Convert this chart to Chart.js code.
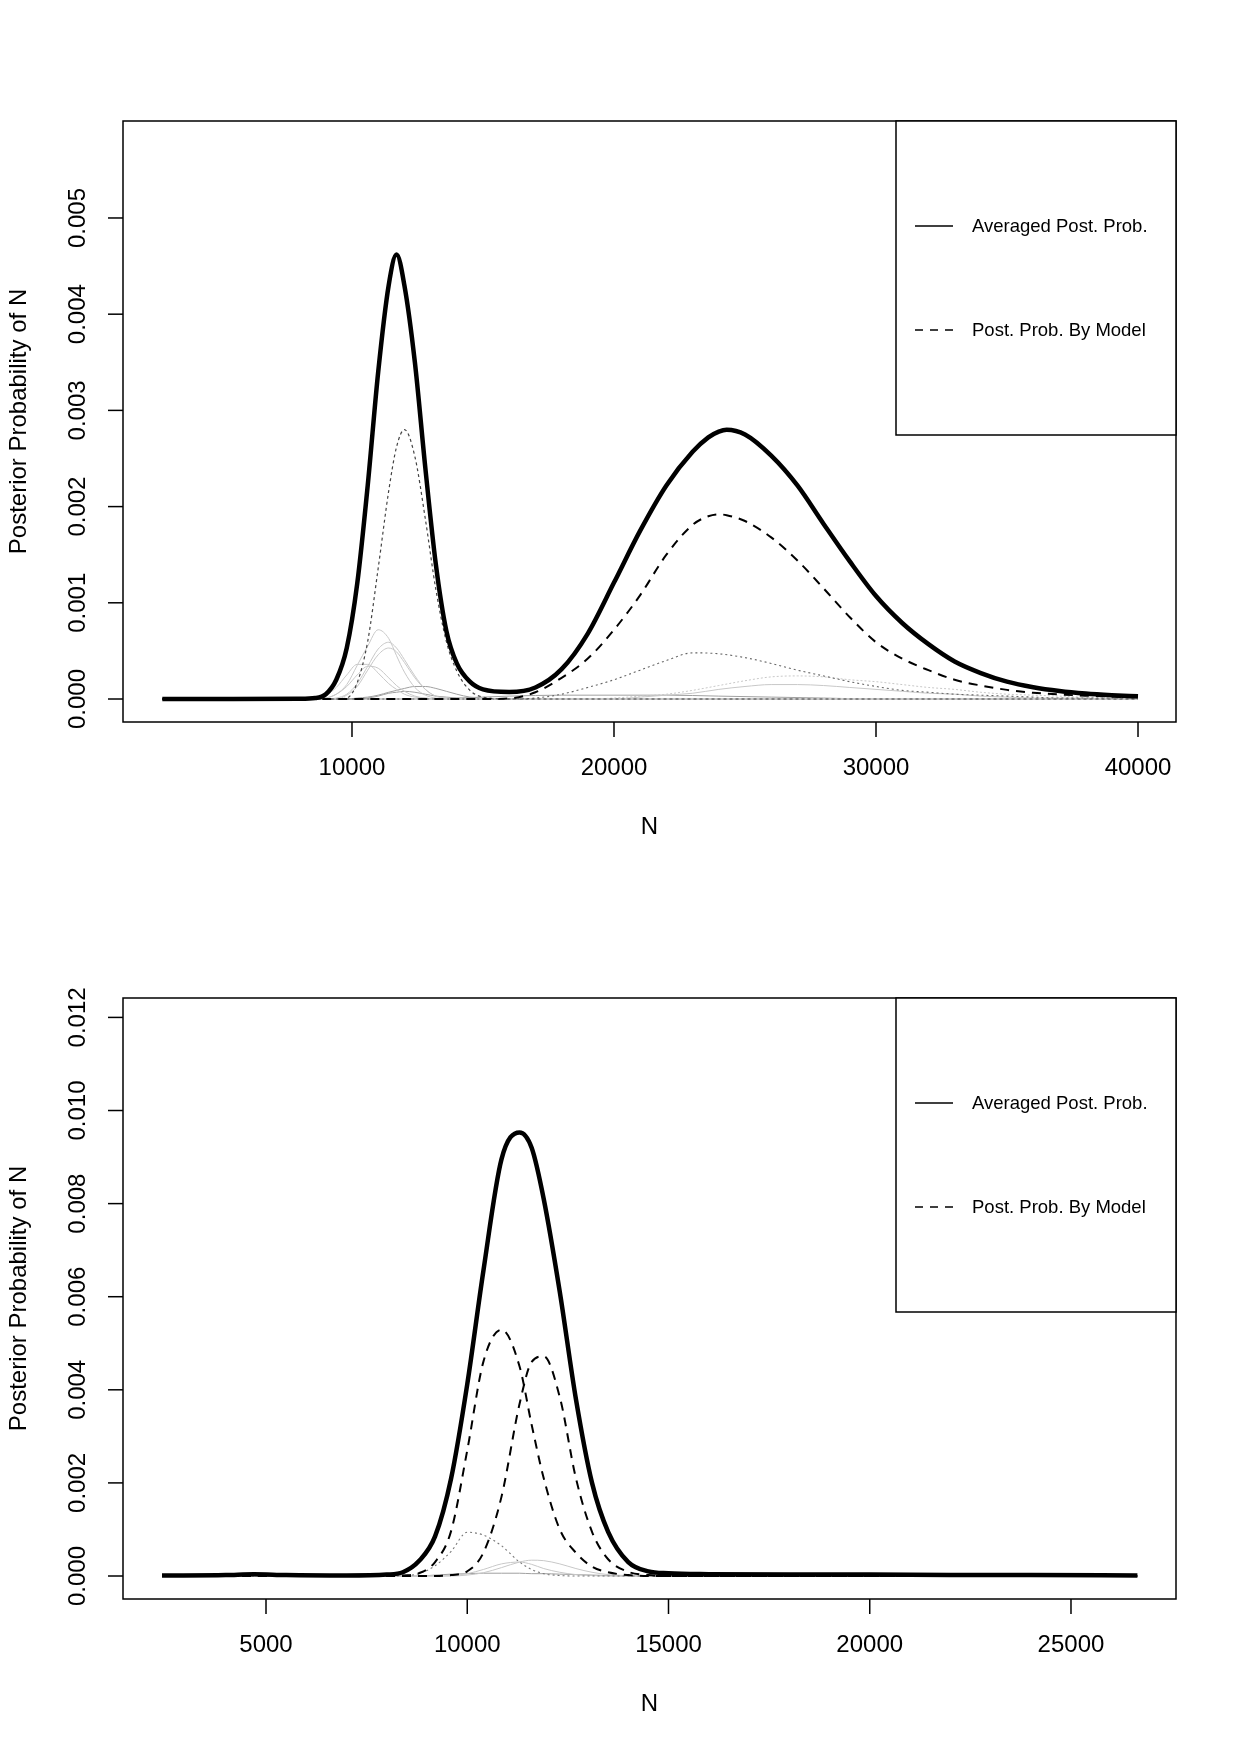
<!DOCTYPE html>
<html>
<head>
<meta charset="utf-8">
<title>Posterior Probability of N</title>
<script src="https://cdn.jsdelivr.net/npm/chart.js@4.4.1/dist/chart.umd.min.js"></script>
<style>
  html, body { margin: 0; padding: 0; background: #fff; }
  #page { position: relative; width: 1240px; height: 1753px; }
  .panel { position: absolute; left: 0; width: 1240px; }
</style>
</head>
<body>
<div id="page">
  <div class="panel" style="top:0;height:876px"><canvas id="topChart" width="1240" height="876"></canvas></div>
  <div class="panel" style="top:876px;height:877px"><canvas id="bottomChart" width="1240" height="877"></canvas></div>
</div>
<script>
// ---------- Top panel data (N grid + posterior curves) ----------
const topN = [2760, 5000, 8000, 8600, 9000, 9400, 9800, 10200, 10600, 11000, 11400, 11700, 12000,
  12400, 12800, 13200, 13600, 14000, 14500, 15000, 16000, 17000, 18000, 19000, 20000, 21000, 22000,
  23000, 23600, 24000, 24300, 25000, 26000, 27000, 28000, 29000, 30000, 31000, 32000, 33000, 34000, 35000, 36000,
  37000, 38000, 39000, 40000];

// averaged posterior (thick)
const topAvg = [0, 0, 0.000002, 0.00001, 0.00005, 0.0002, 0.00053, 0.0012, 0.00222, 0.0034, 0.0043, 0.00462, 0.0043,
  0.0035, 0.0024, 0.0014, 0.00071, 0.00037, 0.00018, 0.0001, 0.000073, 0.00012, 0.00031, 0.00068, 0.00121, 0.00175, 0.00222,
  0.00257, 0.00272, 0.00278, 0.0028, 0.00275, 0.00253, 0.00222, 0.00182, 0.00143, 0.00107, 0.00079, 0.00057, 0.00039, 0.00027, 0.00018, 0.000122,
  0.000083, 0.000057, 0.00004, 0.000028];

// main model (dashed)
const topModel = [0, 0, 0, 0, 0, 0, 0, 0, 0, 0, 0, 0, 0,
  0, 0, 0, 0, 0, 0, 0, 0.000005, 0.00007, 0.00022, 0.00042, 0.00072, 0.00108, 0.0015,
  0.00181, 0.0019, 0.00192, 0.00191, 0.00185, 0.00168, 0.00144, 0.00115, 0.00085, 0.00059, 0.00042, 0.0003, 0.0002, 0.00014, 0.000095, 0.000065,
  0.000047, 0.000035, 0.000025, 0.000017];

// other models, first hump
const topPeakN = [2760, 8600, 9000, 9400, 9800, 10200, 10600, 11000, 11400, 11700, 12000, 12400, 12800, 13200, 13600, 14000, 14500, 15000, 16000, 40000];
const topPeakDot = [0, 0, 0, 0, 0.00001, 0.00017, 0.0006, 0.00136, 0.00216, 0.00262, 0.0028, 0.00252, 0.00187, 0.00114, 0.0006, 0.00029, 0.00009, 0.00002, 0, 0];
const topGrayA = [0, 0, 0.00001, 0.00005, 0.00015, 0.00035, 0.00055, 0.00072, 0.00063, 0.00045, 0.00028, 0.00012, 0.00004, 0.00001, 0, 0, 0, 0, 0, 0];
const topGrayB = [0, 0, 0, 0.00001, 0.00005, 0.00016, 0.00034, 0.00052, 0.00059, 0.00053, 0.00041, 0.00024, 0.0001, 0.00003, 0.00001, 0, 0, 0, 0, 0];
const topGrayC = [0, 0, 0, 0, 0.00004, 0.00013, 0.0003, 0.00046, 0.00053, 0.00049, 0.00038, 0.00022, 0.0001, 0.00003, 0.00001, 0, 0, 0, 0, 0];
const topGrayD = [0, 0.00001, 0.00004, 0.00012, 0.00025, 0.00036, 0.00036, 0.00027, 0.00016, 0.0001, 0.00005, 0.00002, 0.00001, 0, 0, 0, 0, 0, 0, 0];
const topGrayE = [0, 0, 0.00001, 0.00005, 0.00013, 0.00025, 0.00034, 0.00032, 0.00022, 0.00014, 0.00008, 0.00003, 0.00001, 0, 0, 0, 0, 0, 0, 0];
const topGrayF = [0, 0, 0, 0, 0, 0.00001, 0.00002, 0.00004, 0.00007, 0.00009, 0.00011, 0.00013, 0.00013, 0.00011, 0.00008, 0.00005, 0.00002, 0.00001, 0, 0];
const topGrayG = [0, 0, 0, 0, 0, 0, 0.00001, 0.00003, 0.00006, 0.00007, 0.00008, 0.00007, 0.00005, 0.00003, 0.00002, 0.00001, 0, 0, 0, 0];

// other models, second hump
const topTailN = [2760, 16000, 17000, 18000, 19000, 20000, 21000, 22000, 23000, 24000, 25000, 26000, 27000,
  28000, 29000, 30000, 31000, 32000, 33000, 34000, 35000, 36000, 37000, 38000, 39000, 40000];
const topBroadDot = [0, 0, 0.00001, 0.00005, 0.00012, 0.0002, 0.0003, 0.0004, 0.00048, 0.00047, 0.00043, 0.00037, 0.0003,
  0.00024, 0.00018, 0.00013, 0.00009, 0.00007, 0.00005, 0.00004, 0.00003, 0.00002, 0.00001, 0.00001, 0.00001, 0.00001];
const topGrayH = [0, 0, 0, 0, 0, 0.00001, 0.00003, 0.00005, 0.00009, 0.00014, 0.00019, 0.00023, 0.00024,
  0.00023, 0.0002, 0.00018, 0.00015, 0.00012, 0.0001, 0.00007, 0.00005, 0.00004, 0.00003, 0.00002, 0.00002, 0.00001];
const topGrayI = [0, 0, 0, 0, 0, 0, 0.00002, 0.00004, 0.00006, 0.0001, 0.00013, 0.00015, 0.00015,
  0.00014, 0.00012, 0.0001, 0.00008, 0.00006, 0.00005, 0.00003, 0.00002, 0.00001, 0.00001, 0.00001, 0, 0];
const topFlatN = [2760, 12000, 14000, 16000, 18000, 20000, 22000, 24000, 26000, 28000, 30000, 40000];
const topGrayJ = [0, 0, 0.00001, 0.00003, 0.00004, 0.00004, 0.00004, 0.00003, 0.00002, 0.00001, 0, 0];

const topXTicks = [10000, 20000, 30000, 40000];
const topYTicks = [0, 0.001, 0.002, 0.003, 0.004, 0.005];

// ---------- Bottom panel data ----------
const botN = [2416, 4000, 4700, 5500, 7000, 8000, 8400, 8800, 9200, 9600, 10000, 10400, 10850, 11300,
  11600, 11900, 12300, 12700, 13100, 13500, 14000, 14500, 15000, 16000, 18000, 20000, 22000, 24000, 26650];
const botAvg = [0.00001, 0.00002, 0.00004, 0.00002, 0.00001, 0.00003, 0.00008, 0.00032, 0.00085, 0.0021, 0.00412, 0.00655, 0.00895, 0.00953,
  0.0092, 0.0081, 0.0061, 0.0038, 0.002, 0.00095, 0.0003, 0.0001, 0.00006, 0.00004, 0.00003, 0.00003, 0.00002, 0.00002, 0.00001];
const botModelA = [0, 0, 0, 0, 0, 0, 0.00001, 0.00006, 0.0003, 0.00097, 0.0027, 0.0046, 0.00529, 0.0045,
  0.00325, 0.0021, 0.001, 0.0005, 0.0002, 0.00008, 0.00002, 0, 0, 0, 0, 0, 0, 0, 0];
const botModelB = [0, 0, 0, 0, 0, 0, 0, 0, 0, 0.00002, 0.0001, 0.0005, 0.0017, 0.0037,
  0.0046, 0.00472, 0.00384, 0.0021, 0.00095, 0.00036, 0.00009, 0.00002, 0, 0, 0, 0, 0, 0, 0];
const botDot = [0, 0, 0, 0, 0, 0, 0.00001, 0.00005, 0.00022, 0.00053, 0.00094, 0.00088, 0.00065, 0.0003,
  0.00014, 0.00005, 0.00001, 0, 0, 0, 0, 0, 0, 0, 0, 0, 0, 0, 0];
const botGrayA = [0, 0, 0, 0, 0, 0, 0, 0, 0, 0, 0.00002, 0.00007, 0.00018, 0.0003,
  0.00034, 0.00033, 0.00026, 0.00016, 0.00008, 0.00003, 0.00001, 0, 0, 0, 0, 0, 0, 0, 0];
const botGrayB = [0, 0, 0, 0, 0, 0, 0, 0, 0, 0.00001, 0.00005, 0.00014, 0.00026, 0.0003,
  0.00025, 0.00016, 0.00008, 0.00003, 0.00001, 0, 0, 0, 0, 0, 0, 0, 0, 0, 0];
const botGrayC = [0, 0, 0, 0, 0, 0, 0, 0, 0.00002, 0.00004, 0.00005, 0.00006, 0.00006, 0.00006,
  0.00005, 0.00005, 0.00004, 0.00003, 0.00002, 0.00001, 0, 0, 0, 0, 0, 0, 0, 0, 0];

const botXTicks = [5000, 10000, 15000, 20000, 25000];
const botYTicks = [0, 0.002, 0.004, 0.006, 0.008, 0.010, 0.012];

const legendLabels = ['Averaged Post. Prob.', 'Post. Prob. By Model'];
const FONT = '"Liberation Sans", Arial, Helvetica, sans-serif';

// zip an N grid with a value list
function pts(ns, vs) {
    return ns.map((n, i) => ({ x: n, y: vs[i] }));
}

function line(ns, vs, color, width, dash) {
    return {
        data: pts(ns, vs),
        borderColor: color,
        borderWidth: width,
        borderDash: dash || [],
        pointRadius: 0,
        fill: false,
        cubicInterpolationMode: 'monotone',
        borderJoinStyle: 'round',
        borderCapStyle: 'butt'
    };
}

// R-style frame: box, outward ticks, rotated y labels, axis titles, legend box
const rFrame = {
    id: 'rFrame',
    afterDraw(chart, args, opts) {
        const ctx = chart.ctx;
        const a = chart.chartArea;
        const x = chart.scales.x, y = chart.scales.y;
        ctx.save();
        ctx.strokeStyle = '#000';
        ctx.fillStyle = '#000';
        ctx.lineWidth = 1.5;
        ctx.strokeRect(a.left, a.top, a.right - a.left, a.bottom - a.top);

        ctx.font = '24px ' + FONT;
        ctx.textAlign = 'center';
        ctx.textBaseline = 'middle';
        opts.xTicks.forEach(v => {
            const px = x.getPixelForValue(v);
            ctx.beginPath();
            ctx.moveTo(px, a.bottom);
            ctx.lineTo(px, a.bottom + 15);
            ctx.stroke();
            ctx.fillText(String(v), px, a.bottom + 46);
        });
        opts.yTicks.forEach(v => {
            const py = y.getPixelForValue(v);
            ctx.beginPath();
            ctx.moveTo(a.left, py);
            ctx.lineTo(a.left - 15, py);
            ctx.stroke();
            ctx.save();
            ctx.translate(a.left - 45, py);
            ctx.rotate(-Math.PI / 2);
            ctx.fillText(v.toFixed(3), 0, 0);
            ctx.restore();
        });

        // axis titles
        ctx.fillText('N', (a.left + a.right) / 2, a.bottom + 105);
        ctx.save();
        ctx.translate(a.left - 104, (a.top + a.bottom) / 2);
        ctx.rotate(-Math.PI / 2);
        ctx.fillText('Posterior Probability of N', 0, 0);
        ctx.restore();

        // legend
        const lx = a.right - 280, ly = a.top;
        ctx.fillStyle = '#fff';
        ctx.fillRect(lx, ly, a.right - lx, 314);
        ctx.strokeRect(lx, ly, a.right - lx, 314);
        ctx.fillStyle = '#000';
        ctx.font = '18.5px ' + FONT;
        ctx.textAlign = 'left';
        ctx.lineWidth = 1.5;
        [105, 209].forEach((dy, i) => {
            ctx.setLineDash(i === 0 ? [] : [8, 7]);
            ctx.beginPath();
            ctx.moveTo(lx + 19, ly + dy);
            ctx.lineTo(lx + 57, ly + dy);
            ctx.stroke();
            ctx.setLineDash([]);
            ctx.fillText(legendLabels[i], lx + 76, ly + dy + 1);
        });
        ctx.restore();
    }
};

function makeChart(id, datasets, xr, yr, padTop, xTicks, yTicks) {
    return new Chart(document.getElementById(id), {
        type: 'line',
        data: { datasets: datasets },
        options: {
            responsive: false,
            animation: false,
            events: [],
            layout: { padding: { top: padTop, right: 64, left: 0, bottom: 0 } },
            scales: {
                x: {
                    type: 'linear', min: xr[0], max: xr[1],
                    ticks: { display: false }, grid: { display: false }, border: { display: false },
                    afterFit: s => { s.height = 154; }
                },
                y: {
                    type: 'linear', min: yr[0], max: yr[1],
                    ticks: { display: false }, grid: { display: false }, border: { display: false },
                    afterFit: s => { s.width = 123; }
                }
            },
            plugins: {
                legend: { display: false },
                tooltip: { enabled: false },
                rFrame: { xTicks: xTicks, yTicks: yTicks }
            }
        },
        plugins: [rFrame]
    });
}

const LIGHT = '#c8c8c8';
const MID = '#a0a0a0';

makeChart('topChart', [
    line(topN, topAvg, '#000', 4.5),
    line(topN, topModel, '#000', 2, [9, 7]),
    line(topPeakN, topPeakDot, '#444', 1.2, [3, 3]),
    line(topTailN, topBroadDot, '#666', 1.1, [2, 3]),
    line(topPeakN, topGrayA, LIGHT, 1),
    line(topPeakN, topGrayB, LIGHT, 1),
    line(topPeakN, topGrayC, LIGHT, 1),
    line(topPeakN, topGrayD, LIGHT, 1),
    line(topPeakN, topGrayE, LIGHT, 1),
    line(topPeakN, topGrayF, MID, 1),
    line(topPeakN, topGrayG, MID, 1),
    line(topTailN, topGrayH, LIGHT, 1, [2, 2]),
    line(topTailN, topGrayI, LIGHT, 1),
    line(topFlatN, topGrayJ, MID, 1)
], [1260, 41450], [-0.000239, 0.006008], 121, topXTicks, topYTicks);

makeChart('bottomChart', [
    line(botN, botAvg, '#000', 4.5),
    line(botN, botModelA, '#000', 2, [9, 7]),
    line(botN, botModelB, '#000', 2, [9, 7]),
    line(botN, botDot, '#777', 1.1, [2, 3]),
    line(botN, botGrayA, LIGHT, 1),
    line(botN, botGrayB, LIGHT, 1),
    line(botN, botGrayC, MID, 1)
], [1447, 27609], [-0.000494, 0.012417], 122, botXTicks, botYTicks);
</script>
</body>
</html>
